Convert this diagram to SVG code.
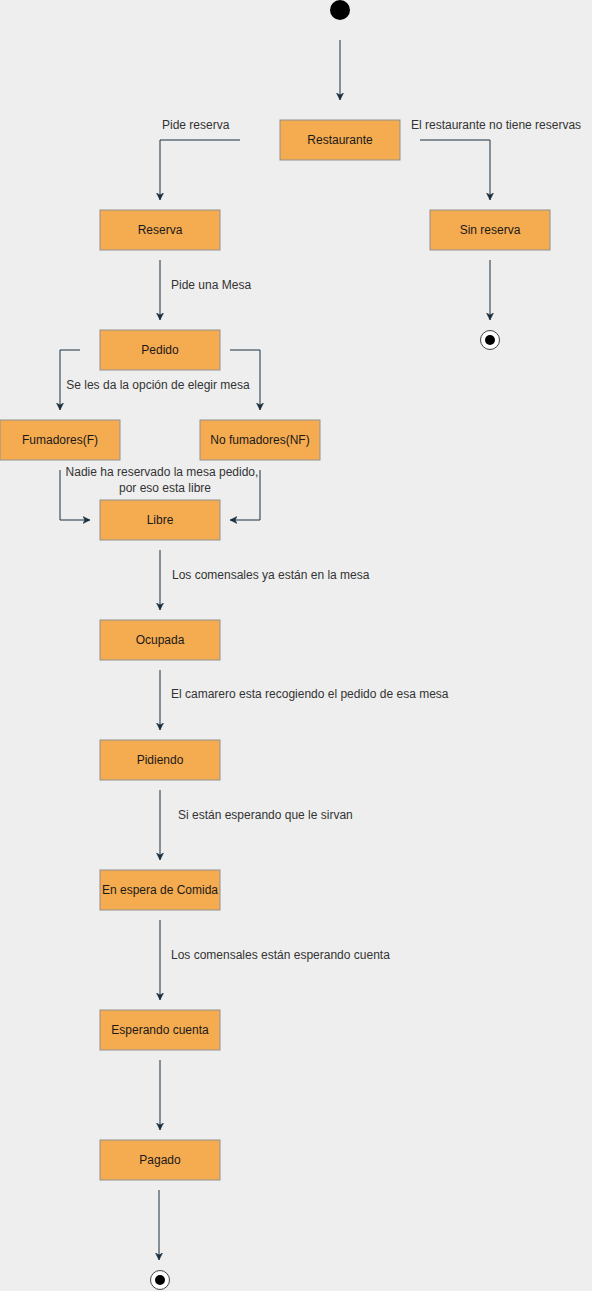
<svg xmlns="http://www.w3.org/2000/svg" width="592" height="1291" viewBox="0 0 592 1291">
<defs>
<marker id="arr" markerWidth="8" markerHeight="8" refX="7" refY="4" orient="auto" markerUnits="userSpaceOnUse">
<path d="M0,0.5 L7,4 L0,7.5 L2,4 Z" fill="#182E3E" stroke="#182E3E" stroke-width="0.5"/>
</marker>
<style>
.box{fill:#F5AB50;stroke:#909090;stroke-width:1}
.bt{font-family:"Liberation Sans",Arial,sans-serif;font-size:12px;fill:#1a1a1a;text-anchor:middle}
.lt{font-family:"Liberation Sans",Arial,sans-serif;font-size:12px;fill:#333333}
.e{fill:none;stroke:#182E3E;stroke-width:1;marker-end:url(#arr)}
</style>
</defs>
<rect x="0" y="0" width="592" height="1291" fill="#EEEEEE"/>
<g id="start"><circle cx="340" cy="10" r="10" fill="#000"/></g>
<g id="restaurante"><rect class="box" x="280" y="120" width="120" height="40"/><text class="bt" x="340" y="144">Restaurante</text></g>
<g id="reserva"><rect class="box" x="100" y="210" width="120" height="40"/><text class="bt" x="160" y="234">Reserva</text></g>
<g id="sinreserva"><rect class="box" x="430" y="210" width="120" height="40"/><text class="bt" x="490" y="234">Sin reserva</text></g>
<g id="end1"><circle cx="490" cy="340" r="9.5" fill="#fff" stroke="#444" stroke-width="1"/><circle cx="490" cy="340" r="5" fill="#000"/></g>
<g id="pedido"><rect class="box" x="100" y="330" width="120" height="40"/><text class="bt" x="160" y="354">Pedido</text></g>
<g id="fumadores"><rect class="box" x="0" y="420" width="120" height="40"/><text class="bt" x="60" y="444">Fumadores(F)</text></g>
<g id="nofumadores"><rect class="box" x="200" y="420" width="120" height="40"/><text class="bt" x="260" y="444">No fumadores(NF)</text></g>
<g id="libre"><rect class="box" x="100" y="500" width="120" height="40"/><text class="bt" x="160" y="524">Libre</text></g>
<g id="ocupada"><rect class="box" x="100" y="620" width="120" height="40"/><text class="bt" x="160" y="644">Ocupada</text></g>
<g id="pidiendo"><rect class="box" x="100" y="740" width="120" height="40"/><text class="bt" x="160" y="764">Pidiendo</text></g>
<g id="espera"><rect class="box" x="100" y="870" width="120" height="40"/><text class="bt" x="160" y="894">En espera de Comida</text></g>
<g id="cuenta"><rect class="box" x="100" y="1010" width="120" height="40"/><text class="bt" x="160" y="1034">Esperando cuenta</text></g>
<g id="pagado"><rect class="box" x="100" y="1140" width="120" height="40"/><text class="bt" x="160" y="1164">Pagado</text></g>
<g id="end2"><circle cx="160" cy="1280" r="9.5" fill="#fff" stroke="#444" stroke-width="1"/><circle cx="160" cy="1280" r="5" fill="#000"/></g>
<g id="connectors">
<path class="e" d="M340,40 V100"/>
<path class="e" d="M240,140 H160 V200"/>
<text class="lt" x="162" y="129">Pide reserva</text>
<path class="e" d="M420,140 H490 V200"/>
<text class="lt" x="411" y="129">El restaurante no tiene reservas</text>
<path class="e" d="M490,260 V320"/>
<path class="e" d="M160,260 V320"/>
<text class="lt" x="171" y="289">Pide una Mesa</text>
<path class="e" d="M80,350 H60 V410"/>
<path class="e" d="M230,350 H260 V410"/>
<text class="lt" x="158" y="389" text-anchor="middle">Se les da la opción de elegir mesa</text>
<path class="e" d="M60,470 V520 H90"/>
<path class="e" d="M260,470 V520 H230"/>
<text class="lt" x="162" y="476" text-anchor="middle">Nadie ha reservado la mesa pedido,</text>
<text class="lt" x="165" y="492" text-anchor="middle">por eso esta libre</text>
<path class="e" d="M160,550 V610"/>
<text class="lt" x="172" y="579">Los comensales ya están en la mesa</text>
<path class="e" d="M160,670 V730"/>
<text class="lt" x="171" y="698">El camarero esta recogiendo el pedido de esa mesa</text>
<path class="e" d="M160,790 V860"/>
<text class="lt" x="178" y="819">Si están esperando que le sirvan</text>
<path class="e" d="M160,920 V1000"/>
<text class="lt" x="171" y="959">Los comensales están esperando cuenta</text>
<path class="e" d="M160,1060 V1130"/>
<path class="e" d="M159,1190 V1260"/>
</g>
</svg>
